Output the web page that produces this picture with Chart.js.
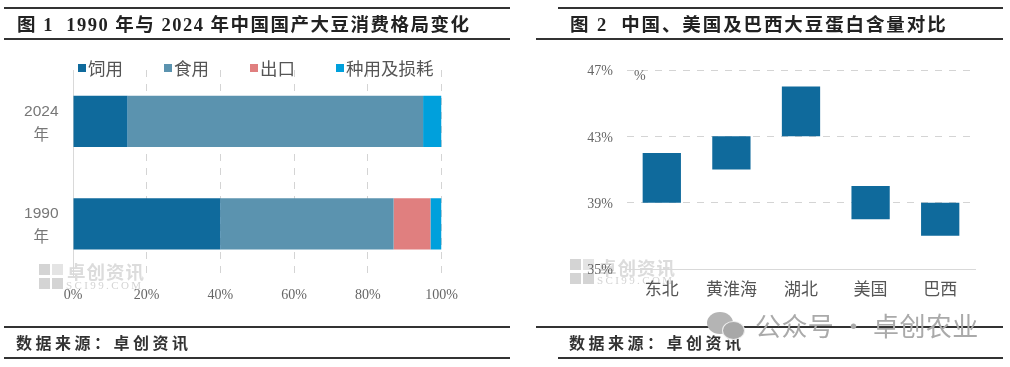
<!DOCTYPE html>
<html lang="zh">
<head>
<meta charset="utf-8">
<title>大豆消费格局与蛋白含量</title>
<script src="https://cdn.jsdelivr.net/npm/chart.js@4"></script>
<style>
  html, body { margin: 0; padding: 0; background: #fff; }
  #page {
    position: relative; width: 1010px; height: 367px; overflow: hidden;
    font-family: "Liberation Serif", "Noto Sans CJK SC", serif;
    filter: blur(0.35px);
  }
  #page > * { position: absolute; }
  .rule { height: 2px; background: #333; }
  .title { font-size: 18.5px; font-weight: 700; color: #222; white-space: nowrap; line-height: 24px; }
  .source { font-size: 16px; font-weight: 700; color: #333; letter-spacing: 3.5px; white-space: nowrap; line-height: 22px; }
  canvas { display: block; }
  #legend { display: flex; gap: 41px; left: 78px; top: 57px; color: #555; font: 17.5px/22px "Noto Sans CJK SC", sans-serif; white-space: nowrap; }
  #legend span.item { display: flex; align-items: center; gap: 2px; }
  #legend i { display: block; width: 8px; height: 8px; }
  .mark { width: 24px; height: 25px; background:
      linear-gradient(#d4d4d4, #d4d4d4) 0 0 / 11px 11px no-repeat,
      linear-gradient(#d4d4d4, #d4d4d4) 0 14px / 11px 11px no-repeat,
      linear-gradient(#d4d4d4, #d4d4d4) 13px 14px / 11px 11px no-repeat,
      linear-gradient(#e4e4e4, #e4e4e4) 13px 0 / 11px 11px no-repeat; }
  .markCn { font: 700 18.5px/20px "Noto Sans CJK SC", sans-serif; color: #dcdcdc; letter-spacing: 1px; white-space: nowrap; }
  .markEn { font: 11px/10px "Liberation Serif", serif; color: #d4d4d4; letter-spacing: 2.4px; white-space: nowrap; }
  .wx { border-radius: 50%; background: #b4b4b4; }
  #wxText { left: 755px; top: 307px; font: 26px/36px "Noto Sans CJK SC", sans-serif; color: #aaa; white-space: nowrap; letter-spacing: 0.4px; }
  #pct { left: 634px; top: 68px; font: 14px/16px "Liberation Serif", serif; color: #666; }
</style>
</head>
<body>
<div id="page">
  <div class="rule" style="left:4px;width:506px;top:7px"></div>
  <div class="rule" style="left:4px;width:506px;top:38px"></div>
  <div class="rule" style="left:4px;width:506px;top:326px"></div>
  <div class="rule" style="left:4px;width:506px;top:357px"></div>
  <div class="rule" style="left:558px;width:445px;top:7px"></div>
  <div class="rule" style="left:536px;width:467px;top:38px"></div>
  <div class="rule" style="left:536px;width:467px;top:326px"></div>
  <div class="rule" style="left:558px;width:445px;top:357px"></div>

  <div class="title" style="left:17px;top:13px;letter-spacing:1.5px">图 1&nbsp; 1990 年与 2024 年中国国产大豆消费格局变化</div>
  <div class="title" style="left:570px;top:13px;letter-spacing:1.9px">图 2&nbsp; 中国、美国及巴西大豆蛋白含量对比</div>
  <div class="source" style="left:16px;top:333px">数据来源：卓创资讯</div>
  <div class="source" style="left:569px;top:333px">数据来源：卓创资讯</div>

  <div class="mark" style="left:39px;top:264px"></div>
  <div class="markCn" style="left:67px;top:261px">卓创资讯</div>
  <div class="markEn" style="left:66px;top:280px">SCI99.COM</div>
  <div class="mark" style="left:570px;top:259px"></div>
  <div class="markCn" style="left:598px;top:257px">卓创资讯</div>
  <div class="markEn" style="left:597px;top:275px">SCI99.COM</div>

  <canvas id="chart1" width="495" height="260" style="left:10px;top:50px"></canvas>
  <canvas id="chart2" width="470" height="260" style="left:530px;top:50px"></canvas>
  <div id="legend"></div>
  <div id="pct">%</div>

  <div class="wx" style="left:707px;top:312px;width:26px;height:22px"></div>
  <div class="wx" style="left:722px;top:321px;width:21px;height:17px;background:#a8a8a8;border:1px solid #eee"></div>
  <div id="wxText">公众号 · 卓创农业</div>
</div>

<script>
// 图 1: consumption share, percent
const years = [['2024', '年'], ['1990', '年']];
const seriesNames = ['饲用', '食用', '出口', '种用及损耗'];
const feedUse = [14.8, 40];
const foodUse = [80.2, 47];
const exportUse = [0, 10];
const seedUse = [5, 3];
const seriesColors = ['#0F6A9C', '#5B93AF', '#E07F7F', '#00A0DC'];

// 图 2: protein content range, percent
const regions = ['东北', '黄淮海', '湖北', '美国', '巴西'];
const proteinLow = [39, 41, 43, 38, 37];
const proteinHigh = [42, 43, 46, 40, 39];

const tickFont = { family: '"Liberation Serif", "Noto Sans CJK SC", serif', size: 14 };
const tickColor = '#666';
const gridDash = '#d4d4d4';

Chart.defaults.animation = false;
Chart.defaults.responsive = false;

const shares = [feedUse, foodUse, exportUse, seedUse];

// keep the plot box fixed, tick labels should not push it around
const fixAxis = (scale, size) => {
    if (scale.isHorizontal()) {
        scale.height = size;
    } else {
        scale.width = size;
    }
    scale.paddingTop = 0;
    scale.paddingBottom = 0;
    scale.paddingLeft = 0;
    scale.paddingRight = 0;
};

new Chart(document.getElementById('chart1'), {
    type: 'bar',
    data: {
        labels: years,
        datasets: seriesNames.map((name, i) => ({
            label: name,
            data: shares[i],
            backgroundColor: seriesColors[i],
            barPercentage: 0.5,
            categoryPercentage: 1,
        })),
    },
    options: {
        indexAxis: 'y',
        layout: { padding: { top: 20, right: 63.5, left: 0, bottom: 0 } },
        plugins: { legend: { display: false }, tooltip: { enabled: false } },
        scales: {
            x: {
                stacked: true,
                min: 0,
                max: 100,
                afterFit: (scale) => fixAxis(scale, 35),
                ticks: { stepSize: 20, callback: (v) => v + '%', color: tickColor, font: tickFont, padding: 12, maxRotation: 0 },
                grid: {
                    drawTicks: false,
                    color: (c) => (c.tick.value === 0 ? 'rgba(0,0,0,0)' : gridDash),
                },
                border: { display: false, dash: [7, 7] },
            },
            y: {
                stacked: true,
                afterFit: (scale) => fixAxis(scale, 63),
                ticks: {
                    color: '#777',
                    font: { family: '"Liberation Sans", "Noto Sans CJK SC", sans-serif', size: 15.5, lineHeight: 1.55 },
                    padding: 14.5,
                    crossAlign: 'center',
                    labelOffset: 2,
                },
                grid: { display: false, drawTicks: false },
                border: { color: '#d9d9d9' },
            },
        },
    },
});

new Chart(document.getElementById('chart2'), {
    type: 'bar',
    data: {
        labels: regions,
        datasets: [{
            label: '蛋白含量',
            data: regions.map((_, i) => [proteinLow[i], proteinHigh[i]]),
            backgroundColor: seriesColors[0],
            barPercentage: 0.55,
            categoryPercentage: 1,
        }],
    },
    options: {
        layout: { padding: { top: 20, right: 25, left: 0, bottom: 0 } },
        plugins: { legend: { display: false }, tooltip: { enabled: false } },
        scales: {
            x: {
                afterFit: (scale) => fixAxis(scale, 41),
                ticks: { color: '#555', font: { family: '"Noto Sans CJK SC", sans-serif', size: 17 }, padding: 9, maxRotation: 0 },
                grid: { display: false, drawTicks: false },
                border: { color: '#d9d9d9' },
            },
            y: {
                min: 35,
                max: 47,
                afterFit: (scale) => fixAxis(scale, 97),
                ticks: { stepSize: 4, callback: (v) => v + '%', color: tickColor, font: tickFont, padding: 14, labelOffset: 1.5 },
                grid: {
                    drawTicks: false,
                    color: (c) => (c.tick.value === 35 ? 'rgba(0,0,0,0)' : gridDash),
                },
                border: { display: false, dash: [7, 7] },
            },
        },
    },
});

// legend sits over the plot in the original so it is built by hand
const legendBox = document.getElementById('legend');
seriesNames.forEach((name, i) => {
    const item = document.createElement('span');
    item.className = 'item';
    item.innerHTML = `<i style="background:${seriesColors[i]}"></i>${name}`;
    legendBox.appendChild(item);
});
</script>
</body>
</html>
